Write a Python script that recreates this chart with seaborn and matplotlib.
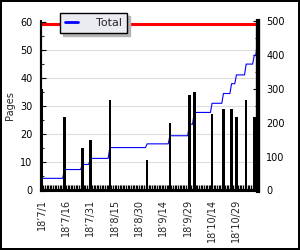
import numpy as np
import pandas as pd
import matplotlib
matplotlib.use("Agg")
import matplotlib.pyplot as plt
from matplotlib.ticker import MultipleLocator
from matplotlib.lines import Line2D
import seaborn as sns

# --- data ---
start_date = "2018-07-01"
end_date = "2018-11-11"
read_dates = ["2018-07-01", "2018-07-15", "2018-07-26", "2018-07-31", "2018-08-12",
              "2018-09-04", "2018-09-18", "2018-09-30", "2018-10-03", "2018-10-14",
              "2018-10-21", "2018-10-26", "2018-10-29", "2018-11-04", "2018-11-09",
              "2018-11-11"]
pages = [36, 26, 15, 18, 32, 11, 24, 34, 35, 27, 29, 29, 26, 32, 26, 49]
goal_total = 493
tick_dates = ["2018-07-01", "2018-07-16", "2018-07-31", "2018-08-15", "2018-08-30",
              "2018-09-14", "2018-09-29", "2018-10-14", "2018-10-29"]
tick_labels = ["18\u20197/1", "18\u20197/16", "18\u20197/31", "18\u20198/15", "18\u20198/30",
               "18\u20199/14", "18\u20199/29", "18\u201910/14", "18\u201910/29"]

t0 = pd.Timestamp(start_date)
n_days = (pd.Timestamp(end_date) - t0).days + 1
day_idx = [(pd.Timestamp(d) - t0).days for d in read_dates]
tick_idx = [(pd.Timestamp(d) - t0).days for d in tick_dates]

daily = np.zeros(n_days)
daily[day_idx] = pages
df_bars = pd.DataFrame({"day": day_idx, "pages": pages})
df_total = pd.DataFrame({"day": np.arange(n_days), "total": daily.cumsum()})

sns.set_style("white")
plt.rcParams["font.family"] = ["DejaVu Sans"]
plt.rcParams["font.size"] = 7

fig = plt.figure(figsize=(3, 2.5), dpi=100)
fig.patch.set_facecolor("white")
fig.patch.set_edgecolor("black")
fig.patch.set_linewidth(1.5)

ax = fig.add_axes([41 / 300, 1 - 190.5 / 250, 217 / 300, 169 / 250])
ax2 = ax.twinx()

# cumulative total (right axis)
sns.lineplot(data=df_total, x="day", y="total", ax=ax2, color="#0000ff", lw=0.8)
ax2.axhline(goal_total, color="#ff0000", lw=2.2, zorder=3)

# daily pages (left axis), drawn over the line
sns.barplot(data=df_bars, x="day", y="pages", ax=ax, native_scale=True,
            color="black", saturation=1, width=0.8, linewidth=0)
ax.set_zorder(ax2.get_zorder() + 1)
ax.patch.set_visible(False)

ax.set_xlim(-0.4, n_days - 1 + 0.3)
ax.set_ylim(0, 60)
ax2.set_ylim(0, 500)

ax.set_yticks(range(0, 61, 10))
ax.yaxis.set_minor_locator(MultipleLocator(5))
ax2.set_yticks(range(0, 501, 100))
ax2.yaxis.set_minor_locator(MultipleLocator(50))
ax.set_xticks(tick_idx)
ax.set_xticklabels(tick_labels, rotation=90)
ax.xaxis.set_minor_locator(MultipleLocator(1))

for y in range(10, 60, 10):
    ax2.axhline(y * 500 / 60, color="#dcdcdc", lw=0.8, zorder=0)

ax.tick_params(axis="y", which="major", direction="in", length=3.5, width=0.8, pad=6,
               colors="black", left=True)
ax.tick_params(axis="y", which="minor", direction="in", length=2.5, width=0.8, left=True)
ax.tick_params(axis="x", which="both", direction="in", length=4, width=0.9, pad=6,
               bottom=True, color="black")
ax2.tick_params(axis="y", which="major", direction="in", length=3.5, width=0.8, pad=6,
                colors="black", right=True)
ax2.tick_params(axis="y", which="minor", direction="in", length=2.5, width=0.8, right=True)

ax.set_xlabel("")
ax.set_ylabel("Pages", labelpad=4)
ax2.set_ylabel("")

for a in (ax, ax2):
    a.spines["top"].set_visible(False)
    a.spines["left"].set_linewidth(1.5)
    a.spines["bottom"].set_linewidth(1.5)
    a.spines["right"].set_linewidth(3)
    for s in a.spines.values():
        s.set_color("black")

handle = Line2D([], [], color="#0000ff", lw=2)
fig.legend([handle], ["Total"], loc="upper left", bbox_to_anchor=(60 / 300, 1 - 13 / 250),
           frameon=True, fancybox=False, framealpha=1, facecolor="#ebebf2",
           edgecolor="black", shadow={"color": "#b4b4b4", "alpha": 1},
           handlelength=1.2, handletextpad=1.6, borderpad=0.45, borderaxespad=0,
           fontsize=8)

fig.savefig("out.png", dpi=100, facecolor=fig.get_facecolor(), edgecolor=fig.get_edgecolor())
